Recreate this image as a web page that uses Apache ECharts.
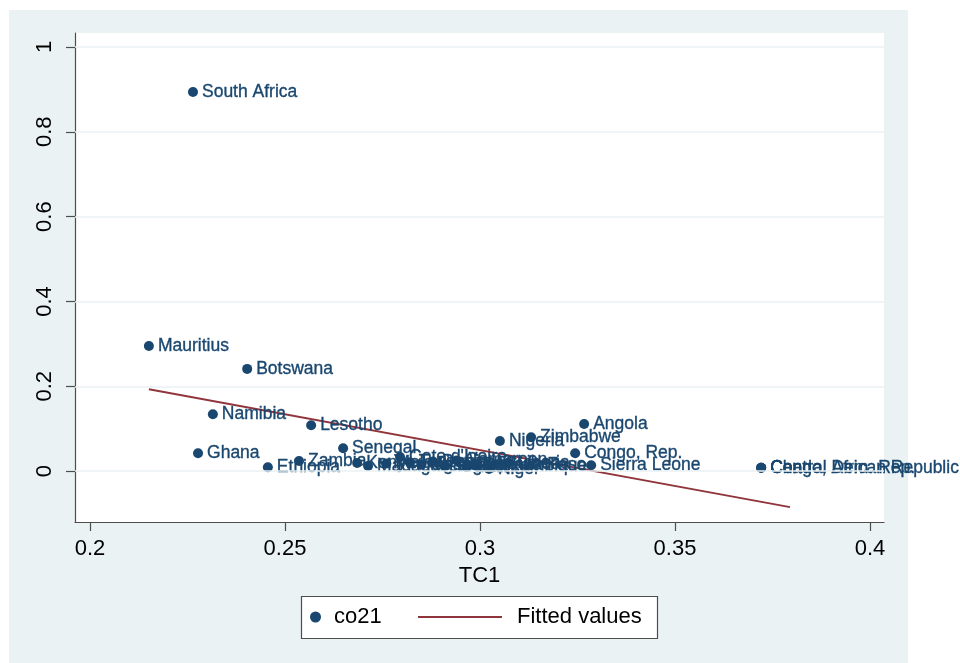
<!DOCTYPE html>
<html>
<head>
<meta charset="utf-8">
<script src="https://cdn.jsdelivr.net/npm/echarts@6/dist/echarts.min.js"></script>
<style>
  html, body { margin: 0; padding: 0; background: #ffffff; }
  #chart { width: 960px; height: 663px; }
</style>
</head>
<body>
<div id="chart"></div>
<script>
// Country observations: TC1 against co21
const countries = [
  'South Africa', 'Mauritius', 'Botswana', 'Namibia', 'Lesotho', 'Ghana',
  'Ethiopia', 'Zambia', 'Senegal', 'Kenya', 'Madagascar', 'Malawi',
  "Cote d'Ivoire", 'Tanzania', 'Uganda', 'Benin', 'Togo', 'Cameroon',
  'Mali', 'Burkina Faso', 'Niger', 'Liberia', 'Mozambique', 'Guinea',
  'Nigeria', 'Zimbabwe', 'Angola', 'Congo, Rep.', 'Sierra Leone',
  'Chad', 'Central African Republic', 'Congo, Dem. Rep.'
];
const tc1 = [
  0.2264, 0.2151, 0.2403, 0.2315, 0.2567, 0.2277,
  0.2456, 0.2536, 0.2649, 0.2685, 0.2713, 0.2760,
  0.2795, 0.2820, 0.2850, 0.2880, 0.2910, 0.2940,
  0.2965, 0.2985, 0.3023, 0.3072, 0.2995, 0.3040,
  0.3051, 0.3131, 0.3267, 0.3244, 0.3285,
  0.3721, 0.3721, 0.3721
];
const co21 = [
  0.894, 0.295, 0.241, 0.134, 0.108, 0.042,
  0.009, 0.024, 0.054, 0.019, 0.012, 0.018,
  0.033, 0.020, 0.015, 0.022, 0.012, 0.025,
  0.010, 0.014, 0.005, 0.019, 0.012, 0.016,
  0.071, 0.080, 0.111, 0.042, 0.014,
  0.008, 0.008, 0.008
];

// Linear fit endpoints
const fitX = [0.2151, 0.3795];
const fitY = [0.193, -0.085];

// Axis ticks
const xTicks = [0.2, 0.25, 0.3, 0.35, 0.4];
const yTicks = [0, 0.2, 0.4, 0.6, 0.8, 1];

const NAVY = '#1a476f';
const MAROON = '#90353b';
const FONT = '"Liberation Sans", Arial, sans-serif';

const scatterData = countries.map((c, i) => ({ name: c, value: [tc1[i], co21[i]] }));
const fitData = fitX.map((x, i) => [x, fitY[i]]);

const chart = echarts.init(document.getElementById('chart'), null, { renderer: 'canvas' });

chart.setOption({
  animation: false,
  backgroundColor: '#ffffff',
  graphic: [
    {
      // outer graph region
      type: 'rect', z: -10, silent: true,
      shape: { x: 9, y: 10, width: 899, height: 653 },
      style: { fill: '#eaf2f3' }
    },
    {
      // legend frame
      type: 'rect', z: 5, silent: true,
      shape: { x: 301.5, y: 596.5, width: 356, height: 42 },
      style: { fill: '#ffffff', stroke: '#4d4d4d', lineWidth: 1.2 }
    }
  ],
  grid: {
    left: 75, right: 76, top: 33, bottom: 141,
    show: true, backgroundColor: '#ffffff', borderWidth: 0
  },
  xAxis: {
    type: 'value',
    min: 0.19615, max: 0.40359,
    name: 'TC1',
    nameLocation: 'middle',
    nameGap: 41,
    nameTextStyle: { color: '#000', fontSize: 22, fontFamily: FONT },
    axisLine: { show: true, onZero: false, lineStyle: { color: '#4d4d4d', width: 1.2 } },
    axisTick: { show: true, length: 9, customValues: xTicks, lineStyle: { color: '#4d4d4d', width: 1.2 } },
    axisLabel: {
      customValues: xTicks, margin: 16,
      color: '#000', fontSize: 22, fontFamily: FONT,
      formatter: v => String(+v.toFixed(2))
    },
    splitLine: { show: false }
  },
  yAxis: {
    type: 'value',
    min: -0.120, max: 1.033,
    axisLine: { show: true, onZero: false, lineStyle: { color: '#4d4d4d', width: 1.2 } },
    axisTick: { show: true, length: 9, customValues: yTicks, lineStyle: { color: '#4d4d4d', width: 1.2 } },
    axisLabel: {
      customValues: yTicks, rotate: 90, margin: 19,
      color: '#000', fontSize: 22, fontFamily: FONT,
      formatter: v => String(+v.toFixed(1))
    },
    splitLine: { show: false }
  },
  legend: [
    {
      left: 310, top: 606, padding: 0, z: 6,
      itemWidth: 11, itemHeight: 11,
      textStyle: { color: '#000', fontSize: 22, fontFamily: FONT, padding: [0, 0, 0, 8] },
      data: [{ name: 'co21', icon: 'circle', itemStyle: { color: NAVY } }]
    },
    {
      left: 418, top: 606, padding: 0, z: 6,
      itemWidth: 84, itemHeight: 2,
      textStyle: { color: '#000', fontSize: 22, fontFamily: FONT, padding: [0, 0, 0, 10] },
      data: [{ name: 'Fitted values', icon: 'rect', itemStyle: { color: MAROON } }]
    }
  ],
  series: [
    {
      // horizontal grid lines
      type: 'line', data: [], silent: true,
      markLine: {
        silent: true, symbol: 'none', label: { show: false },
        lineStyle: { color: '#eaf2f3', width: 1.5, type: 'solid' },
        data: yTicks.map(v => ({ yAxis: v }))
      },
      z: 0
    },
    {
      name: 'co21',
      type: 'scatter',
      data: scatterData,
      symbol: 'circle',
      symbolSize: 10,
      itemStyle: { color: NAVY, opacity: 1 },
      label: {
        show: true, position: 'right', distance: 4,
        formatter: p => p.name,
        color: NAVY, fontSize: 17.5, fontFamily: FONT,
        textBorderColor: NAVY, textBorderWidth: 0.35
      },
      labelLayout: { hideOverlap: false },
      z: 3
    },
    {
      name: 'Fitted values',
      type: 'line',
      data: fitData,
      symbol: 'none',
      lineStyle: { color: MAROON, width: 1.8 },
      itemStyle: { color: MAROON },
      z: 2
    }
  ]
});
</script>
</body>
</html>
